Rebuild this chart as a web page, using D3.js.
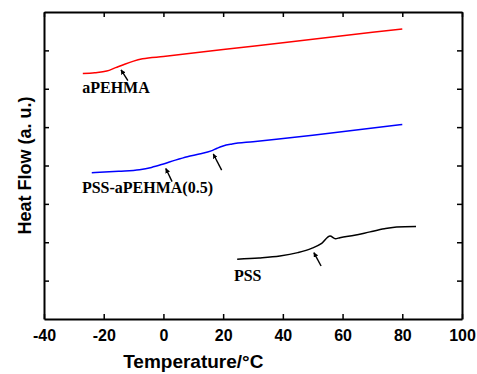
<!DOCTYPE html>
<html>
<head>
<meta charset="utf-8">
<script src="https://cdn.jsdelivr.net/npm/d3@7"></script>
<style>
  body { margin: 0; background: #fff; }
  svg { display: block; }
</style>
</head>
<body>
<div id="chart"></div>
<script>
// DSC curves (y in arbitrary units, 0..8)
let apehmaT = [-27, -23, -19, -16, -13, -10, -7, 0, 20, 40, 60, 80];
let apehmaV = [6.40, 6.42, 6.46, 6.55, 6.64, 6.72, 6.78, 6.84, 7.02, 7.20, 7.38, 7.56];

let blendT = [-24, -15, -8, -4, 0, 4, 8, 12, 16, 18, 20, 23, 30, 50, 80];
let blendV = [3.81, 3.85, 3.89, 3.95, 4.04, 4.14, 4.23, 4.30, 4.38, 4.45, 4.51, 4.56, 4.62, 4.79, 5.07];

let pssT = [24.7, 32, 39, 45, 49.6, 53, 55.8, 57.6, 59.1, 64, 69.2, 74, 78.1, 84.6];
let pssV = [1.56, 1.59, 1.64, 1.73, 1.84, 1.97, 2.16, 2.09, 2.12, 2.18, 2.27, 2.35, 2.40, 2.41];

let xTicks = [-40, -20, 0, 20, 40, 60, 80, 100];
let yTicks = [1, 2, 3, 4, 5, 6, 7];

// labels and arrows (data units)
let labels = [
    {text: 'aPEHMA', t: -27.2, v: 5.90},
    {text: 'PSS-aPEHMA(0.5)', t: -27.3, v: 3.29},
    {text: 'PSS', t: 23.6, v: 1.00}
];
let arrows = [
    [-11.9, 6.21, -14.2, 6.49],
    [2.9, 3.58, 0.8, 3.92],
    [19.5, 3.88, 16.7, 4.30],
    [52.8, 1.38, 50.4, 1.73]
];

let width = 477, height = 374;
let margin = {top: 12, right: 15, bottom: 55, left: 44};
let w = width - margin.left - margin.right;
let h = height - margin.top - margin.bottom;

let svg = d3.select('#chart').append('svg')
    .attr('width', width)
    .attr('height', height);

let g = svg.append('g')
    .attr('transform', `translate(${margin.left},${margin.top})`);

let x = d3.scaleLinear().domain([-40, 100]).range([0, w]);
let y = d3.scaleLinear().domain([0, 8]).range([h, 0]);

svg.append('defs').append('marker')
    .attr('id', 'head')
    .attr('viewBox', '0 0 10 10')
    .attr('refX', 9).attr('refY', 5)
    .attr('markerWidth', 5).attr('markerHeight', 5)
    .attr('markerUnits', 'userSpaceOnUse')
    .attr('orient', 'auto')
    .append('path')
    .attr('d', 'M0,0 L10,5 L0,10 Z')
    .attr('fill', '#000');

// curves
let line = d3.line().x(d => x(d[0])).y(d => y(d[1])).curve(d3.curveMonotoneX);
let series = [
    {t: apehmaT, v: apehmaV, color: '#ff0000'},
    {t: blendT, v: blendV, color: '#0000ff'},
    {t: pssT, v: pssV, color: '#000000'}
];
series.forEach(function (s) {
    g.append('path')
        .datum(d3.zip(s.t, s.v))
        .attr('d', line)
        .attr('fill', 'none')
        .attr('stroke', s.color)
        .attr('stroke-width', 1.5);
});

// arrows
g.selectAll('.arrow')
    .data(arrows)
    .enter().append('line')
    .attr('class', 'arrow')
    .attr('x1', d => x(d[0])).attr('y1', d => y(d[1]))
    .attr('x2', d => x(d[2])).attr('y2', d => y(d[3]))
    .attr('stroke', '#000')
    .attr('stroke-width', 1.4)
    .attr('marker-end', 'url(#head)');

// curve labels
g.selectAll('.label')
    .data(labels)
    .enter().append('text')
    .attr('class', 'label')
    .attr('x', d => x(d.t))
    .attr('y', d => y(d.v))
    .text(d => d.text)
    .style('font-family', '"Liberation Serif", "Times New Roman", serif')
    .style('font-weight', 'bold')
    .style('font-size', '16px');

// axes, ticks pointing inward, on all four sides
let axisFont = '"Liberation Sans", Arial, sans-serif';
let xBottom = g.append('g').attr('transform', `translate(0,${h})`)
    .call(d3.axisBottom(x).tickValues(xTicks).tickSizeInner(-5).tickSizeOuter(0)
        .tickPadding(11).tickFormat(d => String(d)));
let xTop = g.append('g')
    .call(d3.axisTop(x).tickValues(xTicks).tickSizeInner(-5).tickSizeOuter(0).tickFormat(''));
let yLeft = g.append('g')
    .call(d3.axisLeft(y).tickValues(yTicks).tickSizeInner(-5).tickSizeOuter(0).tickFormat(''));
let yRight = g.append('g').attr('transform', `translate(${w},0)`)
    .call(d3.axisRight(y).tickValues(yTicks).tickSizeInner(-5).tickSizeOuter(0).tickFormat(''));

[xBottom, xTop, yLeft, yRight].forEach(function (a) {
    a.select('.domain').attr('stroke', '#000').attr('stroke-width', 2);
    a.selectAll('.tick line').attr('stroke', '#000').attr('stroke-width', 1.5);
});
xBottom.selectAll('.tick text')
    .style('font-family', axisFont)
    .style('font-weight', 'bold')
    .style('font-size', '16px')
    .attr('fill', '#000');

// axis titles
svg.append('text')
    .attr('x', margin.left + x(10))
    .attr('y', 368)
    .attr('text-anchor', 'middle')
    .style('font-family', axisFont)
    .style('font-weight', 'bold')
    .style('font-size', '19px')
    .text('Temperature/°C');

svg.append('text')
    .attr('transform', `translate(31,${margin.top + y(4)}) rotate(-90)`)
    .attr('text-anchor', 'middle')
    .style('font-family', axisFont)
    .style('font-weight', 'bold')
    .style('font-size', '18px')
    .text('Heat Flow (a. u.)');
</script>
</body>
</html>
